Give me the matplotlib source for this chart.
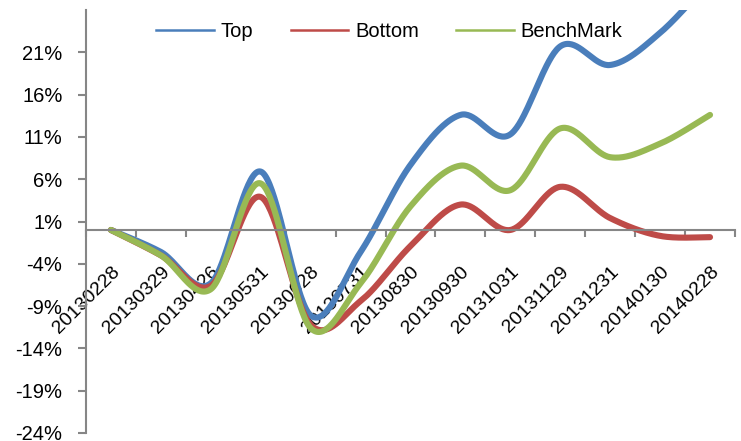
import numpy as np
import matplotlib
matplotlib.use("Agg")
import matplotlib.pyplot as plt
from matplotlib.lines import Line2D

categories = ['20130228', '20130329', '20130426', '20130531', '20130628', '20130731',
              '20130830', '20130930', '20131031', '20131129', '20131231', '20140130', '20140228']
top = [0.0, -2.6, -6.3, 6.9, -10.1, -2.6, 7.7, 13.6, 11.3, 21.7, 19.5, 23.3, 29.5]
bottom = [0.0, -3.0, -6.6, 3.9, -11.2, -8.4, -1.9, 3.0, 0.0, 5.1, 1.4, -0.7, -0.85]
bench = [0.0, -3.0, -7.0, 5.5, -11.6, -6.3, 2.8, 7.6, 4.7, 12.0, 8.6, 10.2, 13.6]
series_names = ['Top', 'Bottom', 'BenchMark']
colors = ['#4A7EBB', '#BE4B48', '#98B954']
yticks = list(range(-24, 22, 5))

plt.rcParams['font.family'] = ['Liberation Sans', 'DejaVu Sans']


def smooth(xs, ys, n=40):
    """Excel-like smoothed line (Catmull-Rom Bezier)."""
    xs = np.asarray(xs, float)
    ys = np.asarray(ys, float)
    P = np.column_stack([xs, ys])
    out = []
    m = len(P)
    for i in range(m - 1):
        p0 = P[i - 1] if i > 0 else P[i]
        p1 = P[i]
        p2 = P[i + 1]
        p3 = P[i + 2] if i + 2 < m else P[i + 1]
        c1 = p1 + (p2 - p0) / 6.0
        c2 = p2 - (p3 - p1) / 6.0
        t = np.linspace(0, 1, n, endpoint=(i == m - 2))[:, None]
        b = ((1 - t) ** 3) * p1 + 3 * ((1 - t) ** 2) * t * c1 + 3 * (1 - t) * t ** 2 * c2 + t ** 3 * p2
        out.append(b)
    out = np.vstack(out)
    return out[:, 0], out[:, 1]


fig = plt.figure(figsize=(7.41, 4.41), dpi=100)
ax = fig.add_axes([86 / 741, 1 - 433 / 441, (735 - 86) / 741, (433 - 10) / 441])

x = np.arange(len(categories))
for vals, name, c in zip([top, bottom, bench], series_names, colors):
    sx, sy = smooth(x, vals)
    ax.plot(sx, sy, color=c, lw=4.4, solid_capstyle='round', solid_joinstyle='round', label=name)

ax.set_xlim(-0.5, len(categories) - 0.5)
ax.set_ylim(-24, 26)

grey = '#868686'
for s in ['top', 'right']:
    ax.spines[s].set_visible(False)
ax.spines['bottom'].set_position(('data', 0))
for s in ['left', 'bottom']:
    ax.spines[s].set_color(grey)
    ax.spines[s].set_linewidth(1.5)

ax.set_yticks(yticks)
ax.set_yticklabels([f'{v}%' for v in yticks], fontsize=14.5)
ax.tick_params(axis='y', direction='out', length=6, width=1.5, color=grey, pad=11)

ax.set_xticks(x)
ax.set_xticklabels(categories, fontsize=14, rotation=45, ha='right', va='top',
                   rotation_mode='anchor')
ax.tick_params(axis='x', which='major', length=0, pad=24)
ax.set_xticks(np.arange(-0.5, len(categories), 1.0), minor=True)
ax.tick_params(axis='x', which='minor', direction='out', length=5, width=1.5, color=grey)

handles = [Line2D([], [], color=c, lw=1.8) for c in colors]
fig.legend(handles, series_names, loc='center', bbox_to_anchor=(0.5256, 0.928),
           bbox_transform=fig.transFigure, ncol=3, frameon=False, fontsize=14.5,
           handlelength=2.85, handletextpad=0.35, columnspacing=1.85, borderpad=0)

fig.savefig('out.png', dpi=100)
